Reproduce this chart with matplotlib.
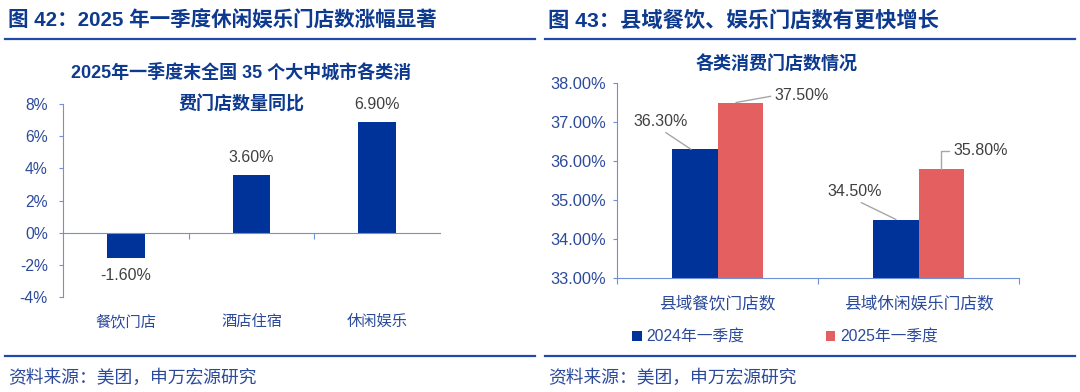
import matplotlib
matplotlib.use('Agg')
import matplotlib.pyplot as plt
import numpy as np

plt.rcParams['font.family'] = ['Liberation Sans', 'Noto Sans CJK SC']

# left chart data
cats_l = ['餐饮门店', '酒店住宿', '休闲娱乐']
yoy = [-1.6, 3.6, 6.9]
yticks_l = [-4, -2, 0, 2, 4, 6, 8]

# right chart data
cats_r = ['县域餐饮门店数', '县域休闲娱乐门店数']
share_2024 = [36.3, 34.5]
share_2025 = [37.5, 35.8]
series_names = ['2024年一季度', '2025年一季度']
yticks_r = [33, 34, 35, 36, 37, 38]

BLUE = '#003399'
RED = '#E46060'
TITLE_C = '#0D3A8E'
TICK_C = '#2C4A9C'
AXIS_C = '#7090D8'
LBL_C = '#404040'
LEAD_C = '#A6A6A6'

fig = plt.figure(figsize=(10.8, 3.92), dpi=100)
W, H = 1080, 392


def fx(px):
    return px / W


def fy(py):
    return 1 - py / H


# headers and rules
fig.text(fx(8), fy(21), '图 42：2025 年一季度休闲娱乐门店数涨幅显著', fontsize=14.8,
         fontweight='bold', color=TITLE_C, va='center', ha='left')
fig.text(fx(548), fy(21), '图 43：县域餐饮、娱乐门店数有更快增长', fontsize=15.3,
         fontweight='bold', color=TITLE_C, va='center', ha='left')
for x0, x1 in [(5, 535), (545, 1075)]:
    for yy in (39, 356):
        fig.add_artist(plt.Line2D([fx(x0), fx(x1)], [fy(yy), fy(yy)], color='#1F4AA8', lw=1.6))
fig.text(fx(8), fy(378), '资料来源：美团，申万宏源研究', fontsize=12.8, color=TICK_C, va='center')
fig.text(fx(548), fy(378), '资料来源：美团，申万宏源研究', fontsize=12.8, color=TICK_C, va='center')

# ---- left chart ----
ax1 = fig.add_axes([fx(63), fy(297), fx(440 - 63), (297 - 104) / H])
x = np.arange(len(cats_l))
ax1.bar(x, yoy, width=0.3, color=BLUE)
ax1.set_xlim(-0.5, 2.5)
ax1.set_ylim(-4, 8)
ax1.set_yticks(yticks_l)
ax1.set_yticklabels([f'{v}%' for v in yticks_l], fontsize=11.3, color=TICK_C)
ax1.tick_params(axis='y', length=3, color=AXIS_C, pad=8)
ax1.spines['bottom'].set_position(('data', 0))
for s in ['top', 'right']:
    ax1.spines[s].set_visible(False)
ax1.spines['left'].set_color(AXIS_C)
ax1.spines['bottom'].set_color(AXIS_C)
ax1.set_xticks([0.5, 1.5])
ax1.set_xticklabels([])
ax1.tick_params(axis='x', length=4, color=AXIS_C, direction='out')
for i, v in enumerate(yoy):
    off = 7 if v >= 0 else -7
    ax1.annotate(f'{v:.2f}%', (i, v), xytext=(0, off), textcoords='offset points',
                 ha='center', va='bottom' if v >= 0 else 'top', fontsize=11.5, color=LBL_C)
    ax1.annotate(cats_l[i], (i, 0), xycoords=('data', 'axes fraction'), xytext=(0, -18),
                 textcoords='offset points', ha='center', va='center', fontsize=11, color=TICK_C)
fig.text(fx(241), fy(73), '2025年一季度末全国 35 个大中城市各类消', fontsize=13,
         fontweight='bold', color=TITLE_C, ha='center', va='center')
fig.text(fx(241), fy(105), '费门店数量同比', fontsize=13,
         fontweight='bold', color=TITLE_C, ha='center', va='center')

# ---- right chart ----
ax2 = fig.add_axes([fx(617), fy(278), fx(1019 - 617), (278 - 83) / H])
xr = np.arange(len(cats_r))
bw = 0.224
b1 = ax2.bar(xr - bw / 2, share_2024, width=bw, color=BLUE, label=series_names[0])
b2 = ax2.bar(xr + bw / 2, share_2025, width=bw, color=RED, label=series_names[1])
ax2.set_xlim(-0.5, 1.5)
ax2.set_ylim(33, 38)
ax2.set_yticks(yticks_r)
ax2.set_yticklabels([f'{v:.2f}%' for v in yticks_r], fontsize=11.8, color=TICK_C)
ax2.tick_params(axis='y', length=3, color=AXIS_C, pad=5)
for s in ['top', 'right']:
    ax2.spines[s].set_visible(False)
ax2.spines['left'].set_color(AXIS_C)
ax2.spines['bottom'].set_color(AXIS_C)
ax2.set_xticks([-0.5, 0.5, 1.5])
ax2.set_xticklabels([])
ax2.tick_params(axis='x', length=4, color=AXIS_C)
for i, c in enumerate(cats_r):
    ax2.annotate(c, (i, 0), xycoords=('data', 'axes fraction'), xytext=(0, -18),
                 textcoords='offset points', ha='center', va='center', fontsize=12, color=TICK_C)

# data labels with leader lines (offsets in points)
lead = dict(arrowstyle='-', color=LEAD_C, lw=1, shrinkA=1, shrinkB=0)
ax2.annotate(f'{share_2024[0]:.2f}%', (xr[0] - bw / 2 - 0.02, share_2024[0]), xytext=(-22, 20),
             textcoords='offset points', ha='center', va='center', fontsize=11.5, color=LBL_C,
             arrowprops=dict(lead, relpos=(0.5, 0)))
ax2.annotate(f'{share_2025[0]:.2f}%', (xr[0] + bw / 2 - 0.02, share_2025[0]), xytext=(28, 5),
             textcoords='offset points', ha='left', va='center', fontsize=11.5, color=LBL_C,
             arrowprops=dict(lead, relpos=(0, 0.5)))
ax2.annotate(f'{share_2024[1]:.2f}%', (xr[1] - bw / 2, share_2024[1]), xytext=(-30, 20),
             textcoords='offset points', ha='center', va='center', fontsize=11.5, color=LBL_C,
             arrowprops=dict(lead, relpos=(0.5, 0)))
ax2.annotate(f'{share_2025[1]:.2f}%', (xr[1] + bw / 2, share_2025[1]), xytext=(9, 13),
             textcoords='offset points', ha='left', va='center', fontsize=11.5, color=LBL_C,
             arrowprops=dict(lead, relpos=(0, 0.5),
                             connectionstyle='angle,angleA=0,angleB=90,rad=0'))

fig.text(fx(777), fy(65), '各类消费门店数情况', fontsize=13, fontweight='bold',
         color=TITLE_C, ha='center', va='center')
fig.legend(handles=[b1, b2], loc='center', bbox_to_anchor=(fx(785), fy(337)), ncol=2,
           frameon=False, fontsize=11.3, handlelength=0.6, handleheight=0.6,
           handletextpad=0.3, columnspacing=5.2, labelcolor=TICK_C)

fig.savefig('out.png', dpi=100)
